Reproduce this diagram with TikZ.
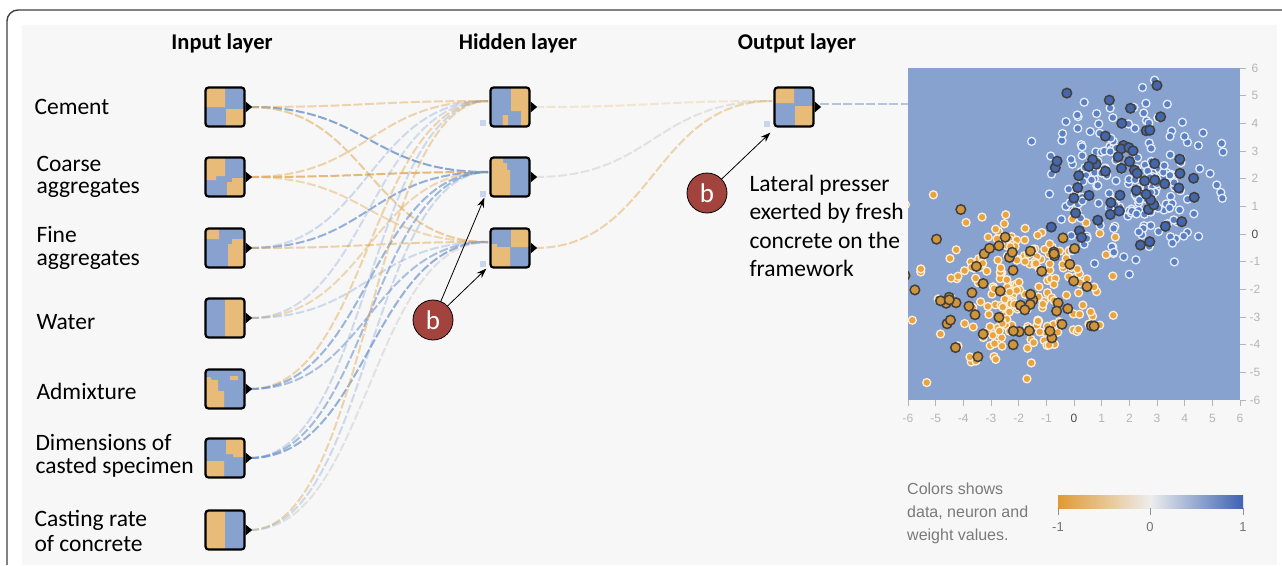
\documentclass[tikz,border=0pt]{standalone}
\usepackage{fontspec}
\setmainfont{Carlito}
\newfontfamily\arialf{Liberation Sans}
\usetikzlibrary{arrows.meta,calc}
\definecolor{panel}{HTML}{F7F7F7}
\definecolor{pblue}{HTML}{88A2D0}
\definecolor{nor}{HTML}{E8BB78}
\definecolor{lor}{HTML}{E2B062}
\definecolor{lbl}{HTML}{6C92CC}
\definecolor{lgr}{HTML}{C8C8C8}
\definecolor{dotb}{HTML}{5A80C6}
\definecolor{dotbd}{HTML}{4467AC}
\definecolor{doto}{HTML}{E9A43E}
\definecolor{bred}{HTML}{A3433D}
\definecolor{axg}{HTML}{B5B5B5}
\definecolor{legg}{HTML}{7A7A7A}
\definecolor{biasc}{HTML}{C9D5EA}
\definecolor{cbl}{HTML}{E09A33}
\definecolor{cbr}{HTML}{3E63B2}
\definecolor{cbm}{HTML}{EDEDED}
\tikzset{
  nbox/.style={draw=black, line width=2.2pt, rounded corners=3pt, minimum size=39pt, inner sep=0pt},
  lab/.style={anchor=west, align=left, font=\fontsize{23.5}{22.5}\selectfont},
  ttl/.style={font=\bfseries\fontsize{22.5}{24}\selectfont},
  lnk/.style={line width=2pt, dash pattern=on 9pt off 2.5pt},
  arr/.style={-{Stealth[length=10pt,width=7pt]}, line width=0.8pt},
  bcirc/.style={circle, fill=bred, draw=black, line width=0.8pt, minimum size=40pt, inner sep=0pt, text=white, font=\fontsize{27}{27}\selectfont},
  axl/.style={font=\arialf\fontsize{12}{12}\selectfont, text=axg, inner sep=0pt},
  trb/.style={fill=dotb, draw=white!80!pblue, line width=1.3pt},
  teb/.style={fill=dotbd, draw=black!75, line width=1.5pt},
  tro/.style={fill=doto, draw=white!80!doto, line width=1.3pt},
  teo/.style={fill=doto!90!black, draw=black!75, line width=1.5pt},
}
\newcommand\nbx[4]{%
  \begin{scope}[shift={(#2,#3)}]
    \begin{scope}
      \clip[rounded corners=2.5pt] (-19.5,-19.5) rectangle (19.5,19.5);
      \fill[pblue] (-20,-20) rectangle (20,20);
      \fill[nor] #4;
    \end{scope}
  \end{scope}
  \node[nbox] (#1) at (#2,#3) {};
  \fill ($(#1.east)+(0,-5.5)$) -- ++(6.5,5.5) -- ++(-6.5,5.5) -- cycle;
}
\newcommand\linkk[4]{\draw[lnk,#3,opacity=#4] (#1) .. controls +(118,0) and +(-118,0) .. (#2);}
\begin{document}
\begin{tikzpicture}[x=1pt,y=-1pt]
\useasboundingbox (0,0) rectangle (1282,565);
\fill[white] (0,0) rectangle (1282,565);
\fill[panel] (22,25) rectangle (1277,565);
\draw[black!75, line width=1.4pt] (7,565) -- (7,21) arc[start angle=180, end angle=270, radius=11] -- (1282,10);

% titles
\node[ttl] (tin) at (222,43) {Input layer};
\node[ttl] (thid) at (518,43) {Hidden layer};
\node[ttl] (tout) at (797,43) {Output layer};

% input labels
\node[lab] (l1) at (31,107) {Cement};
\node[lab] (l2) at (33,177) {Coarse\\aggregates};
\node[lab] (l3) at (33,248) {Fine\\aggregates};
\node[lab] (l4) at (33,322) {Water};
\node[lab] (l5) at (33,391) {Admixture};
\node[lab] (l6) at (32,456) {Dimensions of\\casted specimen};
\node[lab, font=\fontsize{23.5}{25}\selectfont] (l7) at (31,531) {Casting rate\\of concrete};

% bias squares
\fill[biasc] (480,120) rectangle (486,126);
\fill[biasc] (480,191) rectangle (486,197);
\fill[biasc] (480,261) rectangle (486,267);
\fill[biasc] (764,121) rectangle (770,127);

% link anchors
\foreach \k/\y in {1/107,2/177,3/248,4/318,5/389,6/458,7/530}{
  \coordinate (s\k) at (250,\y);
}
\coordinate (e1) at (488,101);
\coordinate (e2) at (488,172);
\coordinate (e3) at (488,242);
\coordinate (hs1) at (535,107);
\coordinate (hs2) at (535,177);
\coordinate (hs3) at (535,248);
\coordinate (oe) at (772,101);
\coordinate (os) at (820,104);
\coordinate (pin) at (908,104);

% links input -> hidden
\linkk{s1}{e1}{lor}{0.5}
\linkk{s1}{e2}{lbl}{0.8}
\linkk{s1}{e3}{lor}{0.6}
\linkk{s2}{e1}{lor}{0.5}
\linkk{s2}{e2}{lor}{0.85}
\linkk{s2}{e3}{lor}{0.45}
\linkk{s3}{e1}{lbl}{0.3}
\linkk{s3}{e2}{lbl}{0.7}
\linkk{s3}{e3}{lor}{0.55}
\linkk{s4}{e1}{lbl}{0.28}
\linkk{s4}{e2}{lor}{0.45}
\linkk{s4}{e3}{lbl}{0.3}
\linkk{s5}{e1}{lor}{0.5}
\linkk{s5}{e2}{lbl}{0.65}
\linkk{s5}{e3}{lbl}{0.55}
\linkk{s6}{e1}{lbl}{0.3}
\linkk{s6}{e2}{lbl}{0.6}
\linkk{s6}{e3}{lbl}{0.7}
\linkk{s7}{e1}{lor}{0.5}
\linkk{s7}{e2}{lbl}{0.3}
\linkk{s7}{e3}{lgr}{0.45}
% hidden -> output
\linkk{hs1}{oe}{lor}{0.25}
\linkk{hs2}{oe}{lgr}{0.45}
\linkk{hs3}{oe}{lor}{0.5}
\draw[lnk, lbl, opacity=0.5] (os) -- (pin);

% input nodes
\nbx{i1}{225}{107}{(-20,-20) rectangle (0,0) (1,2) rectangle (20,20)}
\nbx{i2}{225}{177}{(-20,-20) -- (0,-20) -- (0,-1) -- (-9,-1) -- (-9,3) -- (-20,3) -- cycle (2,20) -- (2,5) -- (7,5) -- (7,1) -- (20,1) -- (20,20) -- cycle}
\nbx{i3}{225}{248}{(-20,-20) rectangle (-6,-9) (3,20) -- (3,-4) -- (7,-4) -- (7,-9) -- (20,-9) -- (20,20) -- cycle}
\nbx{i4}{225}{318}{(0,-20) rectangle (20,20)}
\nbx{i5}{225}{389}{(-20,-12) -- (-15,-12) -- (-13,-9) -- (-7,-9) -- (-7,2) -- (-1,2) -- (-1,20) -- (-20,20) -- cycle (5,-13) rectangle (13,-9)}
\nbx{i6}{225}{458}{(1,-20) -- (20,-20) -- (20,-1) -- (8,-1) -- (8,-4) -- (1,-4) -- cycle (-20,3) -- (-1,3) -- (-1,20) -- (-20,20) -- cycle}
\nbx{i7}{225}{530}{(-20,-20) rectangle (0,20)}
% hidden nodes
\nbx{h1}{510}{107}{(1,-20) -- (20,-20) -- (20,20) -- (11,20) -- (11,4) -- (1,4) -- cycle (-7.5,8) rectangle (-2,20)}
\nbx{h2}{510}{177}{(-20,-20) -- (-7,-20) -- (-7,-14) -- (-3,-14) -- (-3,-7) -- (0,-7) -- (0,20) -- (-20,20) -- cycle}
\nbx{h3}{510}{248}{(1,-20) rectangle (20,-1) (-20,-4) -- (-13,-4) -- (-13,-1) -- (0,-1) -- (0,20) -- (-20,20) -- cycle}
% output node
\nbx{o}{794}{107}{(-20,-20) rectangle (0,-4) (1,-1) rectangle (20,20)}

% annotations
\node[bcirc] (b1) at (433,320) {b};
\node[bcirc] (b2) at (707,193) {b};
\draw[arr] (b1) -- ($(h2.south west)+(-5,0)$);
\draw[arr] (b1) -- ($(h3.south west)+(-3,0)$);
\draw[arr] (b2) -- ($(o.south west)+(-3,5)$);
\node[lab, font=\fontsize{23.5}{28.5}\selectfont] (lat) at (746,226) {Lateral presser\\exerted by fresh\\concrete on the\\framework};

% scatter plot
\begin{scope}
  \clip (908,68) rectangle (1240,400);
  \fill[pblue] (908,68) rectangle (1240,400);
  \pgfmathsetseed{2024}
  \foreach \i in {1,...,200}{
    \pgfmathsetmacro\px{1074+27.67*(-2.1+1.5*(rand+rand+rand))}
    \pgfmathsetmacro\py{234-27.67*(-2.1+1.35*(rand+rand+rand))}
    \path[tro] (\px,\py) circle (4pt);
  }
  \foreach \i in {1,...,200}{
    \pgfmathsetmacro\px{1074+27.67*(2.2+1.5*(rand+rand+rand))}
    \pgfmathsetmacro\py{234-27.67*(2.0+1.5*(rand+rand+rand))}
    \path[trb] (\px,\py) circle (4pt);
  }
  \foreach \i in {1,...,55}{
    \pgfmathsetmacro\px{1074+27.67*(-2.1+1.5*(rand+rand+rand))}
    \pgfmathsetmacro\py{234-27.67*(-2.1+1.35*(rand+rand+rand))}
    \path[teo] (\px,\py) circle (4.8pt);
  }
  \foreach \i in {1,...,55}{
    \pgfmathsetmacro\px{1074+27.67*(2.2+1.5*(rand+rand+rand))}
    \pgfmathsetmacro\py{234-27.67*(2.0+1.5*(rand+rand+rand))}
    \path[teb] (\px,\py) circle (4.8pt);
  }
\end{scope}
% axes
\foreach \v [count=\k] in {-6,...,6}{
  \draw[axg, line width=0.6pt] (1240,{234-27.67*\v}) -- (1246,{234-27.67*\v});
  \draw[axg, line width=0.6pt] ({1074+27.67*\v},400) -- ({1074+27.67*\v},406);
  \ifnum\v=0
    \node[axl, text=black!70] (ry\k) at (1255,{234-27.67*\v}) {\v};
    \node[axl, text=black!70] (rx\k) at ({1074+27.67*\v},418) {\v};
  \else
    \node[axl] (ry\k) at (1255,{234-27.67*\v}) {\v};
    \node[axl] (rx\k) at ({1074+27.67*\v},418) {\v};
  \fi
}

% legend
\node[anchor=west, align=left, font=\arialf\fontsize{16}{23}\selectfont, text=legg, inner sep=0pt] (leg) at (907,513) {Colors shows\\data, neuron and\\weight values.};
\shade[left color=cbl, right color=cbr, middle color=cbm] (1058,495) rectangle (1243,508);
\foreach \x/\t [count=\k] in {1058/-1,1150/0,1243/1}{
  \draw[axg!80!black, line width=0.8pt] (\x,508) -- (\x,515);
  \node[axl, text=black!55, font=\arialf\fontsize{13}{13}\selectfont] (cb\k) at (\x,527) {\t};
}
\end{tikzpicture}
\end{document}
